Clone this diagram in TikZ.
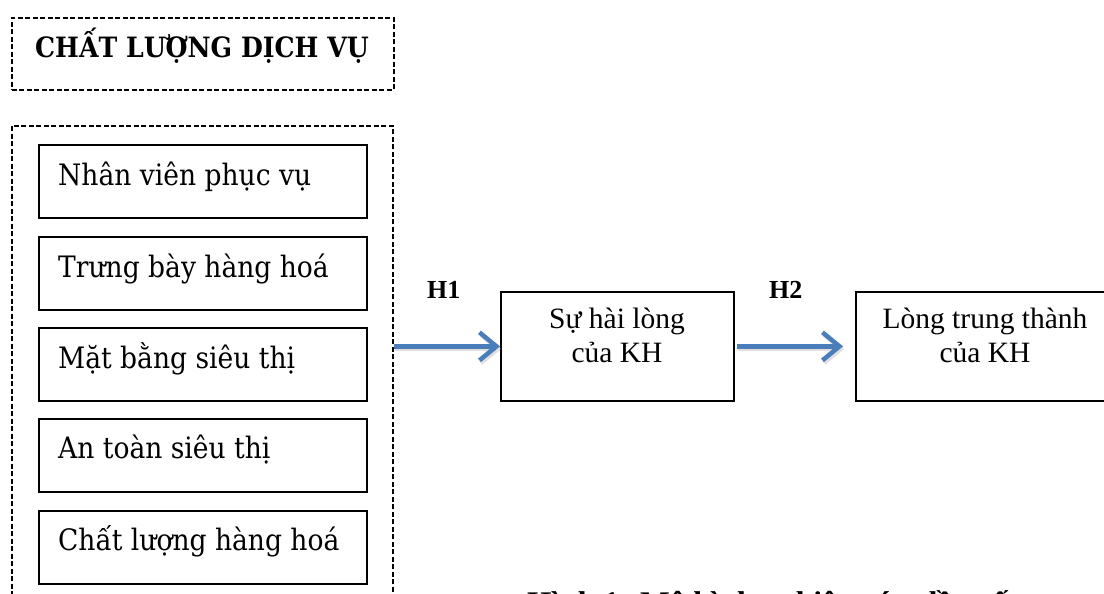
\documentclass[tikz,border=0pt]{standalone}
\usepackage{fontspec}
\setmainfont{Liberation Serif}
\newfontfamily\cambria{DejaVu Serif Condensed}
\usetikzlibrary{arrows.meta}
\definecolor{arrowblue}{RGB}{74,126,187}
\begin{document}
\begin{tikzpicture}[x=1pt,y=-1pt,
  dashbox/.style={draw, dash pattern=on 5pt off 2.5pt, line width=1.6pt, inner sep=0pt},
  itembox/.style={draw, line width=1.8pt, minimum width=328pt, minimum height=73pt, inner sep=0pt, anchor=north west},
  resbox/.style={draw, line width=1.7pt, minimum height=109pt, inner sep=0pt, anchor=north west},
  itemtext/.style={anchor=base west, inner sep=0pt, font=\cambria\fontsize{29.5}{36}\selectfont},
  restext/.style={anchor=base, inner sep=0pt, font=\fontsize{29.5}{34}\selectfont},
  hlabel/.style={anchor=base west, inner sep=0pt, font=\bfseries\fontsize{26}{30}\selectfont},
  link/.style={draw=arrowblue, line width=4.5pt, -{Straight Barb[length=17pt,width=28pt]}},
  linkshadow/.style={draw=black!35, opacity=0.35, line width=4.5pt, -{Straight Barb[length=17pt,width=28pt]}, transform canvas={shift={(1.5pt,-2.5pt)}}}
]
\useasboundingbox (0,0) rectangle (1104,594);
\clip (0,0) rectangle (1104,594);

% title
\node[dashbox, anchor=north west, minimum width=382pt, minimum height=72pt] (ttl) at (11,17) {};
\node[anchor=base, inner sep=0pt, font=\cambria\bfseries\fontsize{28}{34}\selectfont] (ttltext) at (202,58) {CHẤT LƯỢNG DỊCH VỤ};

% group
\node[dashbox, anchor=north west, minimum width=381pt, minimum height=520pt] (grp) at (11,125) {};

\node[itembox] (f1) at (38,144) {};
\node[itembox] (f2) at (38,236) {};
\node[itembox] (f3) at (38,327) {};
\node[itembox] (f4) at (38,418) {};
\node[itembox] (f5) at (38,510) {};
\node[itemtext] (t1) at (58,185) {Nhân viên phục vụ};
\node[itemtext] (t2) at (58,277) {Trưng bày hàng hoá};
\node[itemtext] (t3) at (58,368) {Mặt bằng siêu thị};
\node[itemtext] (t4) at (58,458) {An toàn siêu thị};
\node[itemtext] (t5) at (58,550) {Chất lượng hàng hoá};

% results
\node[resbox, minimum width=233pt] (sat) at (500,291) {};
\node[restext] (sat1) at (617,328) {Sự hài lòng};
\node[restext] (sat2) at (617,362) {của KH};
\node[resbox, minimum width=262pt] (loy) at (855,291) {};
\node[restext] (loy1) at (985,328) {Lòng trung thành};
\node[restext] (loy2) at (985,362) {của KH};

\node[hlabel] (h1) at (427,298) {H1};
\node[hlabel] (h2) at (769,298) {H2};

% arrows
\draw[linkshadow] (grp.east |- sat.west) -- (sat.west);
\draw[linkshadow, shorten <=2pt, shorten >=12pt] (sat.east) -- (loy.west);
\draw[link] (grp.east |- sat.west) -- (sat.west);
\draw[link, shorten <=2pt, shorten >=12pt] (sat.east) -- (loy.west);

% caption (cut off by the page edge, as in the reference)
\node[anchor=base west, inner sep=0pt, font=\bfseries\fontsize{31.5}{36}\selectfont] (cap) at (527,613) {Hình 1: Mô hình nghiên cứu đề xuất};
\end{tikzpicture}
\end{document}
